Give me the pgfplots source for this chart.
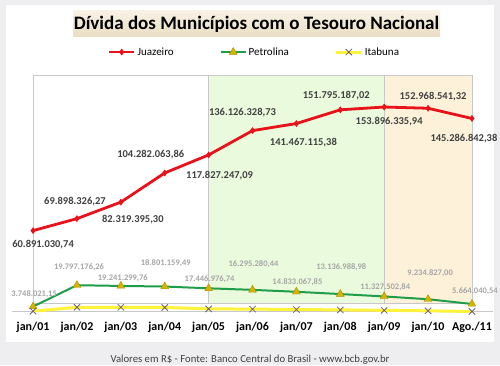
\documentclass[border=0pt]{standalone}
\usepackage{fontspec}
\setmainfont{Carlito}
\usepackage{pgfplots}
\pgfplotsset{compat=1.18}
\definecolor{bggray}{HTML}{EEEEF0}
\definecolor{juared}{HTML}{E8121A}
\definecolor{petgreen}{HTML}{1E9E48}
\definecolor{petgold}{HTML}{D6B400}
\definecolor{itayellow}{HTML}{FFF23A}
\definecolor{itax}{HTML}{6E6080}
\definecolor{regGreen}{HTML}{EAFADC}
\definecolor{regOrange}{HTML}{FDF1DA}
\definecolor{regBorder}{HTML}{C8C8C8}
\definecolor{titleTop}{HTML}{F8F2E4}
\definecolor{titleBot}{HTML}{E9DEC4}
\definecolor{lblDark}{HTML}{404040}
\definecolor{lblGray}{HTML}{A6A6A6}
\begin{document}
\begin{tikzpicture}
\useasboundingbox (0pt,0pt) rectangle (500pt,365pt);
\fill[bggray] (0pt,0pt) rectangle (500pt,365pt);
\fill[white] (6pt,23pt) rectangle (494pt,360pt);
\shade[top color=titleTop,bottom color=titleBot] (73pt,328pt) rectangle (440pt,354pt);
\node[font=\bfseries\fontsize{19}{22}\selectfont, inner sep=0pt] at (256.5pt,341pt) {Dívida dos Municípios com o Tesouro Nacional};
\node[font=\fontsize{10.7}{12}\selectfont, text=lblDark, inner sep=0pt] at (250pt,5pt) {Valores em R\$ - Fonte: Banco Central do Brasil - www.bcb.gov.br};
\begin{axis}[
  at={(12pt,53.5pt)}, anchor=south west,
  scale only axis, width=481pt, height=236.5pt,
  xmin=-0.48, xmax=10.48, ymin=0, ymax=178,
  clip=false,
  axis x line=bottom, axis y line=none,
  axis line style={-, regBorder, line width=1pt},
  major tick length=0pt,
  xtick={0,...,10},
  xticklabels={jan/01,jan/02,jan/03,jan/04,jan/05,jan/06,jan/07,jan/08,jan/09,jan/10,Ago./11},
  xticklabel style={font=\bfseries\fontsize{12}{14}\selectfont, yshift=-7pt},
  legend columns=3,
  legend style={at={(0.504,1.097)}, anchor=center, draw=none, fill=none,
    font=\fontsize{11}{13}\selectfont, /tikz/every even column/.append style={column sep=44pt}},
  legend image code/.code={\draw[mark repeat=2,mark phase=2,#1] plot coordinates {(0pt,0pt) (12.5pt,0pt) (25pt,0pt)};},
  visualization depends on={value \thisrow{dx} \as \dx},
  visualization depends on={value \thisrow{dy} \as \dy},
]
\draw[regBorder, fill=white] (axis cs:0,6.4) rectangle (axis cs:4,178);
\draw[regBorder, fill=regGreen] (axis cs:4,6.4) rectangle (axis cs:8,178);
\draw[regBorder, fill=regOrange] (axis cs:8,6.4) rectangle (axis cs:10,178);

\addplot[juared, line width=2.8pt, mark=diamond*, mark size=3pt, mark options={fill=juared, line width=0.5pt},
  nodes near coords, point meta=explicit symbolic,
  every node near coord/.append style={anchor=center, xshift=\dx pt, yshift=\dy pt, text=lblDark, font=\bfseries\fontsize{10.5}{12}\selectfont}]
  table[x=x, y=y, meta=label] {
x y label dx dy
0 60.891 60.891.030,74 10 -14
1 69.898 69.898.326,27 -2 17
2 82.319 82.319.395,30 12 -17
3 104.282 104.282.063,86 -14 18
4 117.827 117.827.247,09 11 -21
5 136.126 136.126.328,73 -10 18
6 141.467 141.467.115,38 7 -19
7 151.795 151.795.187,02 -4 14
8 153.896 153.896.335,94 5 -15
9 152.969 152.968.541,32 5 12
10 145.287 145.286.842,38 -8 -20
};
\addlegendentry{Juazeiro}

\addplot[petgreen, line width=2pt, mark=triangle*, mark size=4.5pt, mark options={fill=petgold, draw=petgold!80!black, line width=0.4pt},
  nodes near coords, point meta=explicit symbolic,
  every node near coord/.append style={anchor=center, xshift=\dx pt, yshift=\dy pt, text=lblGray, font=\bfseries\fontsize{8.5}{10}\selectfont}]
  table[x=x, y=y, meta=label] {
x y label dx dy
0 3.748 3.748.021,15 1 12.5
1 19.797 19.797.176,26 2 18.5
2 19.241 19.241.299,76 2 8
3 18.801 18.801.159,49 1 23.6
4 17.447 17.446.976,74 1 9.4
5 16.295 16.295.280,44 1 26
6 14.833 14.833.067,85 1 10
7 13.137 13.136.988,98 1 27.4
8 11.328 11.327.502,84 1 9
9 9.235 9.234.827,00 2 26.5
10 5.664 5.664.040,54 3 13.3
};
\addlegendentry{Petrolina}

\addplot[itayellow, line width=3pt, mark=x, mark size=4.5pt, mark options={draw=itax, line width=0.8pt}]
  table[x=x, y=y] {
x y dx dy
0 0.2 0 0
1 3.2 0 0
2 3.2 0 0
3 3.0 0 0
4 2.0 0 0
5 1.8 0 0
6 1.5 0 0
7 1.2 0 0
8 0.9 0 0
9 0.5 0 0
10 0.0 0 0
};
\addlegendentry{Itabuna}
\end{axis}
\end{tikzpicture}
\end{document}
